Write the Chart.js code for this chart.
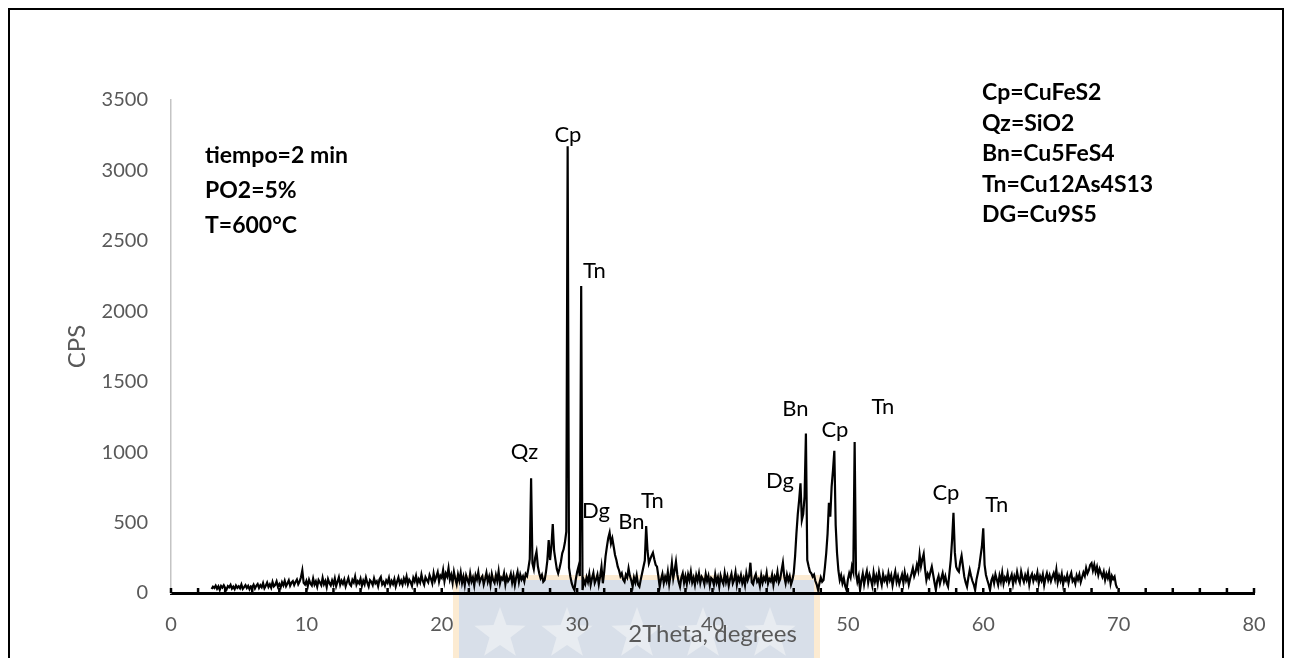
<!DOCTYPE html>
<html>
<head>
<meta charset="utf-8">
<title>XRD 2 min</title>
<script src="https://cdn.jsdelivr.net/npm/chart.js@4.4.1/dist/chart.umd.min.js"></script>
<style>
  html, body { margin: 0; padding: 0; background: #fff; }
  body { width: 1292px; height: 658px; overflow: hidden; position: relative; }
  #frame { position: absolute; left: 8px; top: 8px; width: 1276px; height: 720px; border: 2px solid #000; box-sizing: border-box; pointer-events: none; }
  #wrap { position: absolute; left: 0; top: 0; width: 1292px; height: 658px; }
</style>
</head>
<body>
<div id="wrap"><canvas id="chart-xrd" width="1292" height="658"></canvas></div>
<div id="frame"></div>
<script>
// scan: 3.0 .. 69.9 degrees 2theta, step 0.1
const scanStart = 3.0;
const scanStep = 0.1;

const cps03to10 = [
    28, 44, 35, 52, 30, 47, 22, 50, 38, 55,
    36, 24, 49, 40, 57, 31, 45, 27, 53, 37,
    48, 33, 60, 29, 42, 56, 35, 50, 26, 46,
    39, 58, 32, 51, 64, 36, 55, 41, 70, 34,
    52, 74, 43, 61, 38, 78, 47, 57, 82, 45,
    63, 40, 76, 54, 86, 49, 68, 90, 52, 73,
    84, 57, 79, 96, 62, 81, 112, 160, 72, 60
];
const cps10to20 = [
    86, 48, 94, 67, 53, 102, 60, 82, 45, 91,
    74, 56, 108, 63, 85, 42, 98, 71, 54, 89,
    61, 103, 49, 80, 112, 58, 87, 66, 95, 47,
    78, 106, 64, 52, 93, 75, 116, 59, 84, 68,
    100, 51, 87, 62, 109, 73, 46, 91, 80, 57,
    104, 69, 83, 48, 96, 114, 61, 78, 53, 89,
    72, 107, 56, 85, 64, 99, 47, 81, 110, 66,
    88, 59, 103, 75, 117, 62, 94, 78, 51, 108,
    83, 122, 67, 98, 74, 131, 86, 60, 112, 93,
    76, 127, 101, 69, 139, 88, 116, 147, 81, 123
];
const cps20to30 = [
    108, 162, 84, 139, 117, 176, 95, 128, 73, 150,
    102, 64, 131, 88, 145, 72, 115, 56, 124, 93,
    67, 138, 82, 110, 54, 126, 97, 148, 75, 104,
    120, 61, 99, 143, 80, 116, 58, 134, 91, 71,
    127, 86, 153, 68, 109, 95, 140, 62, 118, 84,
    101, 136, 73, 122, 57, 112, 150, 79, 131, 96,
    118, 82, 135, 120, 175, 240, 814, 211, 170, 250,
    293, 190, 140, 105, 128, 80, 92, 150, 230, 376,
    234, 330, 490, 300, 234, 170, 140, 175, 220, 282,
    310, 360, 435, 3172, 180, 116, 70, 40, 21, 95
];
const cps30to40 = [
    150, 187, 120, 2179, 21, 90, 64, 112, 78, 135,
    58, 104, 142, 71, 96, 130, 62, 118, 187, 69,
    150, 260, 329, 390, 428, 352, 388, 330, 270, 234,
    187, 160, 120, 140, 95, 80, 130, 110, 175, 120,
    90, 45, 110, 75, 125, 60, 45, 95, 140, 187,
    230, 475, 300, 211, 240, 265, 286, 240, 200, 187,
    120, 45, 98, 136, 70, 115, 84, 150, 63, 125,
    211, 105, 160, 222, 130, 80, 45, 110, 140, 72,
    118, 64, 131, 92, 150, 76, 109, 58, 126, 88,
    140, 71, 115, 98, 62, 133, 85, 121, 54, 107
];
const cps40to50 = [
    96, 58, 132, 74, 110, 45, 123, 87, 64, 141,
    79, 118, 52, 101, 136, 68, 92, 147, 60, 113,
    85, 127, 70, 104, 55, 139, 90, 118, 215, 76,
    62, 108, 134, 81, 97, 50, 125, 73, 112, 88,
    143, 67, 100, 84, 129, 58, 115, 92, 150, 75,
    98, 160, 215, 116, 70, 130, 88, 120, 60, 92,
    140, 260, 423, 560, 660, 778, 518, 560, 684, 1133,
    234, 190, 151, 140, 116, 130, 85, 60, 21, 70,
    110, 80, 92, 180, 282, 420, 641, 542, 755, 870,
    1010, 480, 282, 160, 92, 125, 70, 105, 50, 21
];
const cps50to60 = [
    95, 140, 110, 187, 150, 1072, 140, 80, 120, 21,
    90, 138, 62, 115, 155, 74, 128, 96, 52, 143,
    81, 120, 67, 149, 100, 58, 133, 88, 112, 71,
    140, 93, 126, 55, 108, 152, 79, 117, 64, 98,
    131, 72, 145, 90, 118, 60, 103, 138, 177, 120,
    150, 200, 160, 270, 190, 240, 277, 170, 92, 135,
    110, 150, 187, 130, 75, 21, 88, 120, 66, 104,
    140, 82, 118, 70, 45, 140, 234, 380, 570, 290,
    187, 163, 151, 220, 265, 190, 116, 75, 45, 110,
    163, 120, 85, 60, 21, 95, 140, 187, 260, 330
];
const cps60to70 = [
    459, 200, 128, 92, 60, 21, 88, 115, 70, 132,
    96, 58, 123, 81, 145, 67, 110, 90, 138, 74,
    102, 130, 63, 117, 86, 148, 99, 72, 151, 108,
    79, 126, 94, 142, 60, 113, 135, 85, 120, 97,
    144, 70, 118, 89, 131, 56, 106, 139, 92, 125,
    83, 115, 140, 98, 165, 76, 122, 88, 134, 61,
    109, 90, 128, 72, 117, 143, 84, 101, 66, 124,
    95, 131, 78, 112, 146, 120, 177, 140, 162, 199,
    212, 160, 200, 150, 185, 128, 170, 141, 115, 150,
    92, 135, 106, 148, 70, 121, 99, 116, 58, 33
];

// phase labels over the peaks (angle, cps of text baseline)
const peakNames = ['Cp', 'Tn', 'Qz', 'Dg', 'Bn', 'Tn', 'Dg', 'Bn', 'Cp', 'Tn', 'Cp', 'Tn'];
const peakAngle = [29.32, 31.28, 26.11, 31.39, 34.01, 35.56, 44.98, 46.12, 49.04, 52.58, 57.24, 61.0];
const peakCps = [3201, 2236, 951, 532, 454, 603, 745, 1256, 1107, 1270, 660, 575];

const conditionLines = ['tiempo=2 min', 'PO2=5%', 'T=600°C'];
const phaseLines = ['Cp=CuFeS2', 'Qz=SiO2', 'Bn=Cu5FeS4', 'Tn=Cu12As4S13', 'DG=Cu9S5'];

const xTickStep = 10;
const yTickStep = 500;

const cps = [...cps03to10, ...cps10to20, ...cps20to30, ...cps30to40, ...cps40to50, ...cps50to60, ...cps60to70];
const points = cps.map((v, i) => ({ x: +(scanStart + i * scanStep).toFixed(1), y: v }));

function star(ctx, cx, cy, ro, ri) {
    ctx.beginPath();
    for (let k = 0; k < 10; k++) {
        const r = k % 2 === 0 ? ro : ri;
        const a = -Math.PI / 2 + k * Math.PI / 5;
        const px = cx + r * Math.cos(a), py = cy + r * Math.sin(a);
        if (k === 0) ctx.moveTo(px, py); else ctx.lineTo(px, py);
    }
    ctx.closePath();
    ctx.fill();
}

const decor = {
    id: 'decor',
    beforeDraw(chart) {
        const ctx = chart.ctx;
        ctx.save();
        // watermark band under the axis
        ctx.fillStyle = '#fcebd2';
        ctx.fillRect(453, 575, 367, 90);
        ctx.fillStyle = '#d8dfe9';
        ctx.fillRect(459, 580, 355, 90);
        ctx.fillStyle = '#e8ecf1';
        [500, 567, 637, 703, 770].forEach(cx => star(ctx, cx, 634, 27, 11));
        ctx.restore();
    },
    afterDraw(chart) {
        const ctx = chart.ctx;
        const xs = chart.scales.x, ys = chart.scales.y;
        const bottom = chart.chartArea.bottom;
        ctx.save();
        // small inside ticks every 2 degrees
        ctx.fillStyle = '#000';
        for (let v = 0; v <= 80; v += 2) {
            const px = xs.getPixelForValue(v);
            ctx.fillRect(px - 1.25, bottom - 5, 2.5, 5);
        }
        // peak labels
        ctx.font = '22px Lato';
        ctx.textAlign = 'center';
        ctx.textBaseline = 'alphabetic';
        peakNames.forEach((t, i) => {
            ctx.fillText(t, xs.getPixelForValue(peakAngle[i]), ys.getPixelForValue(peakCps[i]));
        });
        // condition and phase notes
        ctx.font = 'bold 23px Lato';
        ctx.textAlign = 'left';
        conditionLines.forEach((t, i) => ctx.fillText(t, 205, 163 + i * 35));
        phaseLines.forEach((t, i) => ctx.fillText(t, 982, 100 + i * 30.6));
        ctx.restore();
    }
};

Chart.defaults.font.family = 'Lato';

new Chart(document.getElementById('chart-xrd'), {
    type: 'line',
    data: {
        datasets: [{
            data: points,
            borderColor: '#000',
            borderWidth: 2.2,
            pointRadius: 0,
            tension: 0,
            fill: false
        }]
    },
    options: {
        responsive: false,
        animation: false,
        events: [],
        layout: { padding: { top: 100, right: 38, bottom: 0, left: 0 } },
        plugins: { legend: { display: false }, tooltip: { enabled: false } },
        scales: {
            x: {
                type: 'linear',
                min: 0,
                max: 80,
                afterFit: s => { s.height = 65; },
                grid: { display: false, drawTicks: false },
                border: { color: '#000', width: 3 },
                ticks: { stepSize: xTickStep, color: '#595959', font: { size: 20 }, padding: 20, maxRotation: 0, callback: v => String(v) },
                title: { display: true, text: '2Theta, degrees', color: '#595959', font: { size: 24 }, padding: { top: 0, bottom: 9 } }
            },
            y: {
                min: 0,
                max: 3500,
                afterFit: s => { s.width = 171; },
                grid: { display: false, drawTicks: false },
                border: { color: '#c4c4c4', width: 1.5 },
                ticks: { stepSize: yTickStep, color: '#595959', font: { size: 20 }, padding: 23, callback: v => String(v) },
                title: { display: true, text: 'CPS', color: '#595959', font: { size: 24 }, padding: { top: 63, bottom: 0 } }
            }
        }
    },
    plugins: [decor]
});
</script>
</body>
</html>
